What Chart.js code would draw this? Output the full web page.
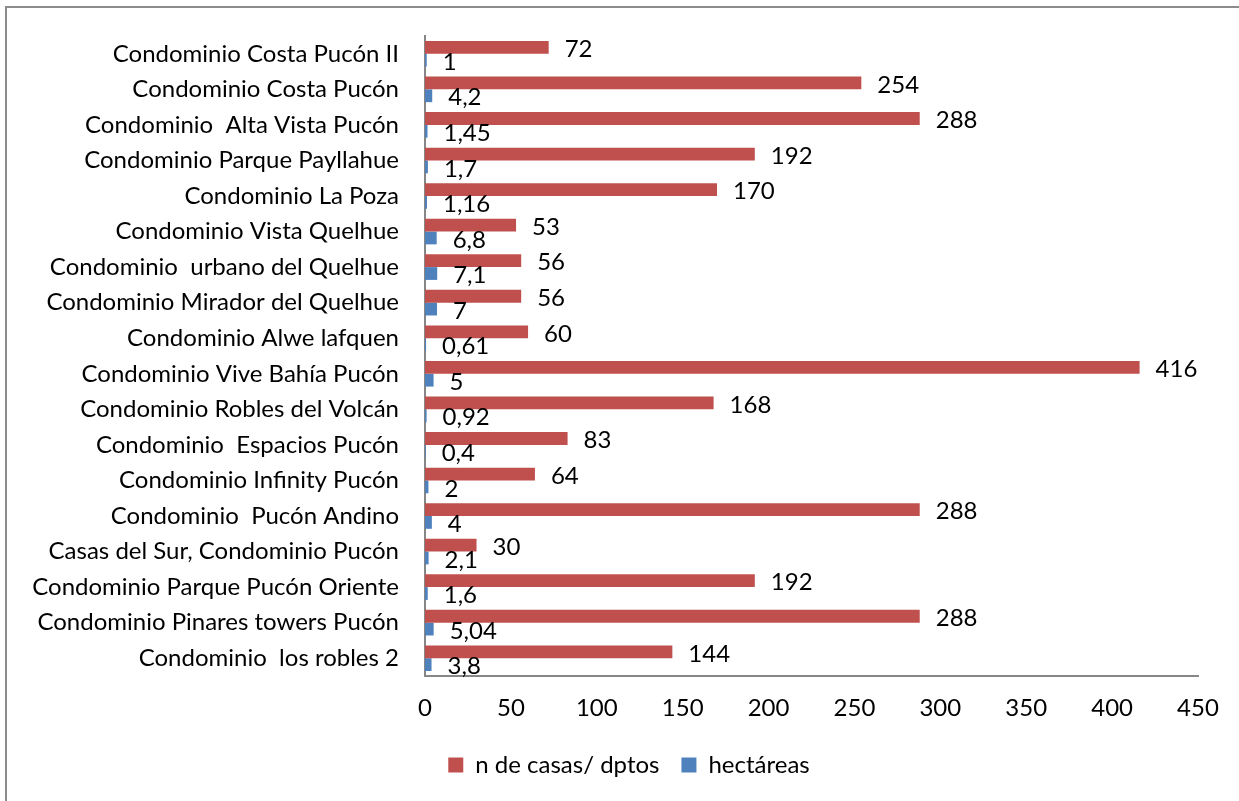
<!DOCTYPE html>
<html>
<head>
<meta charset="utf-8">
<script src="https://cdn.jsdelivr.net/npm/chart.js@4.4.1/dist/chart.umd.min.js"></script>
<style>
  html, body { margin: 0; padding: 0; background: #fff; }
  #wrap { position: relative; width: 1239px; height: 801px; }
</style>
</head>
<body>
<div id="wrap"><canvas id="chart" width="1239" height="801"></canvas></div>
<script>
// Category labels, top to bottom as shown
const categories = [
    'Condominio Costa Pucón II',
    'Condominio Costa Pucón',
    'Condominio  Alta Vista Pucón',
    'Condominio Parque Payllahue',
    'Condominio La Poza',
    'Condominio Vista Quelhue',
    'Condominio  urbano del Quelhue',
    'Condominio Mirador del Quelhue',
    'Condominio Alwe lafquen',
    'Condominio Vive Bahía Pucón',
    'Condominio Robles del Volcán',
    'Condominio  Espacios Pucón',
    'Condominio Infinity Pucón',
    'Condominio  Pucón Andino',
    'Casas del Sur, Condominio Pucón',
    'Condominio Parque Pucón Oriente',
    'Condominio Pinares towers Pucón',
    'Condominio  los robles 2'
];

const casas = [72, 254, 288, 192, 170, 53, 56, 56, 60, 416, 168, 83, 64, 288, 30, 192, 288, 144];
const hectareas = [1, 4.2, 1.45, 1.7, 1.16, 6.8, 7.1, 7, 0.61, 5, 0.92, 0.4, 2, 4, 2.1, 1.6, 5.04, 3.8];

const xTicks = [0, 50, 100, 150, 200, 250, 300, 350, 400, 450];

const FONT = "Lato, 'Open Sans', sans-serif";
const FONT_SIZE = 24;

// Outer border of the chart object
const borderPlugin = {
    id: 'outerBorder',
    beforeDraw(chart) {
        const ctx = chart.ctx;
        ctx.save();
        ctx.strokeStyle = '#8c8c8c';
        ctx.lineWidth = 2;
        ctx.strokeRect(6, 7, 1260, 820);
        ctx.restore();
    }
};

// Legend sits a little right of the canvas centre in the original
const legendShift = {
    id: 'legendShift',
    afterLayout(chart) {
        const lg = chart.legend;
        if (lg) {
            lg.left += 30;
            lg.right += 30;
        }
    }
};

// Value labels to the right of each bar
const valueLabels = {
    id: 'valueLabels',
    afterDatasetsDraw(chart) {
        const ctx = chart.ctx;
        ctx.save();
        ctx.font = FONT_SIZE + 'px ' + FONT;
        ctx.fillStyle = '#000';
        ctx.textAlign = 'left';
        ctx.textBaseline = 'middle';
        chart.data.datasets.forEach((ds, di) => {
            const meta = chart.getDatasetMeta(di);
            meta.data.forEach((bar, i) => {
                const txt = String(ds.data[i]).replace('.', ',');
                ctx.fillText(txt, bar.x + 16, bar.y + 2);
            });
        });
        ctx.restore();
    }
};

new Chart(document.getElementById('chart'), {
    type: 'bar',
    data: {
        labels: categories,
        datasets: [
            {
                label: 'n de casas/ dptos',
                data: casas,
                backgroundColor: '#C0504D',
                categoryPercentage: 0.72,
                barPercentage: 1.0
            },
            {
                label: 'hectáreas',
                data: hectareas,
                backgroundColor: '#4F81BD',
                categoryPercentage: 0.72,
                barPercentage: 1.0
            }
        ]
    },
    options: {
        indexAxis: 'y',
        responsive: false,
        animation: false,
        layout: {
            padding: { top: 36, right: 41, bottom: 14, left: 0 }
        },
        plugins: {
            tooltip: { enabled: false },
            legend: {
                position: 'bottom',
                labels: {
                    color: '#000',
                    font: { family: FONT, size: FONT_SIZE },
                    boxWidth: 15,
                    boxHeight: 15,
                    padding: 22
                }
            }
        },
        scales: {
            x: {
                min: 0,
                max: 450,
                afterBuildTicks(scale) {
                    scale.ticks = xTicks.map(v => ({ value: v }));
                },
                afterFit(scale) {
                    scale.height = 55;
                },
                grid: { display: false, drawTicks: false },
                border: { display: true, color: '#868686', width: 2 },
                ticks: {
                    color: '#000',
                    padding: 18,
                    font: { family: FONT, size: FONT_SIZE }
                }
            },
            y: {
                afterFit(scale) {
                    scale.width = 425;
                },
                // invisible tick marks give the label gap without extra top padding
                grid: {
                    display: true,
                    drawOnChartArea: false,
                    drawTicks: true,
                    tickLength: 26,
                    color: 'rgba(0,0,0,0)'
                },
                border: { display: true, color: '#868686', width: 2 },
                ticks: {
                    color: '#000',
                    padding: 0,
                    autoSkip: false,
                    font: { family: FONT, size: FONT_SIZE }
                }
            }
        }
    },
    plugins: [borderPlugin, legendShift, valueLabels]
});
</script>
</body>
</html>
